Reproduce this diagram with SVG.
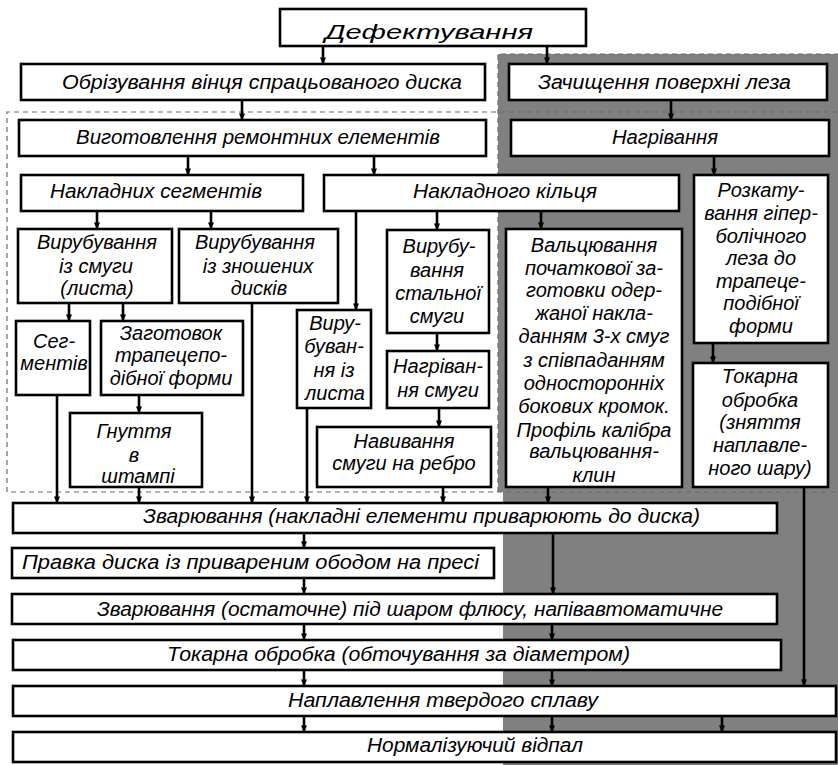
<svg xmlns="http://www.w3.org/2000/svg" width="838" height="765" viewBox="0 0 838 765">
<style>
.bx{fill:#fff;stroke:#000;stroke-width:2.6}
.t{font-family:"Liberation Sans","DejaVu Sans",sans-serif;font-style:italic;font-size:20px;fill:#000}
.c{text-anchor:middle}
.cn line{stroke:#000;stroke-width:2.6;marker-end:url(#ah)}
.dash{fill:none;stroke:#6a6a6a;stroke-width:1.2;stroke-dasharray:5 4}
</style>
<defs>
<marker id="ah" markerUnits="userSpaceOnUse" markerWidth="8" markerHeight="8" viewBox="0 -4 7 8" refX="6.5" refY="0" orient="auto">
<path d="M0,-3 L7,0 L0,3 Z" fill="#000"/>
</marker>
</defs>
<rect x="0" y="0" width="838" height="765" fill="#fff"/>
<path d="M498,54 H838 V765 H503 V492 H498 Z" fill="#808080"/>
<path class="dash" d="M498,492 V54 H838"/>
<path class="dash" d="M838,112 H7 V492 H838"/>

<g class="cn" id="connectors">
<line x1="323" y1="46" x2="323" y2="64"/>
<line x1="547" y1="46" x2="547" y2="64"/>
<line x1="242" y1="100" x2="242" y2="120"/>
<line x1="671" y1="100" x2="671" y2="120"/>
<line x1="188" y1="156" x2="188" y2="175"/>
<line x1="374" y1="156" x2="374" y2="175"/>
<line x1="714" y1="156" x2="714" y2="175"/>
<line x1="97" y1="211" x2="97" y2="229"/>
<line x1="211" y1="211" x2="211" y2="229"/>
<line x1="356" y1="211" x2="356" y2="310"/>
<line x1="437" y1="211" x2="437" y2="230"/>
<line x1="541" y1="211" x2="541" y2="229"/>
<line x1="69" y1="303" x2="69" y2="321"/>
<line x1="123" y1="303" x2="123" y2="321"/>
<line x1="437" y1="333" x2="437" y2="351"/>
<line x1="439" y1="408" x2="439" y2="427"/>
<line x1="713" y1="343" x2="713" y2="363"/>
<line x1="139" y1="395" x2="139" y2="413"/>
<line x1="57" y1="395" x2="57" y2="503"/>
<line x1="139" y1="487" x2="139" y2="503"/>
<line x1="252" y1="303" x2="252" y2="503"/>
<line x1="307" y1="408" x2="307" y2="503"/>
<line x1="443" y1="487" x2="443" y2="503"/>
<line x1="548" y1="487" x2="548" y2="503"/>
<line x1="804" y1="487" x2="804" y2="686"/>
<line x1="304" y1="533" x2="304" y2="548"/>
<line x1="553" y1="533" x2="553" y2="594"/>
<line x1="304" y1="578" x2="304" y2="594"/>
<line x1="304" y1="624" x2="304" y2="640"/>
<line x1="552" y1="624" x2="552" y2="640"/>
<line x1="304" y1="670" x2="304" y2="686"/>
<line x1="552" y1="670" x2="552" y2="686"/>
<line x1="304" y1="716" x2="304" y2="732"/>
<line x1="552" y1="716" x2="552" y2="732"/>
<line x1="722" y1="716" x2="722" y2="732"/>
</g>

<g id="n-defekt"><rect class="bx" x="280" y="9" width="306" height="37"/><text class="t" x="325" y="39" font-size="34" textLength="208" lengthAdjust="spacingAndGlyphs">Дефектування</text></g>
<g id="n-obriz"><rect class="bx" x="21" y="64" width="464" height="36"/><text class="t" x="62" y="89" textLength="400" lengthAdjust="spacingAndGlyphs">Обрізування вінця спрацьованого диска</text></g>
<g id="n-zachysch"><rect class="bx" x="509" y="64" width="318" height="36"/><text class="t" x="538" y="89" textLength="253" lengthAdjust="spacingAndGlyphs">Зачищення поверхні леза</text></g>
<g id="n-vyhot"><rect class="bx" x="19" y="120" width="467" height="36"/><text class="t" x="76" y="144" textLength="364" lengthAdjust="spacingAndGlyphs">Виготовлення ремонтних елементів</text></g>
<g id="n-nahriv"><rect class="bx" x="511" y="120" width="318" height="36"/><text class="t" x="612" y="144" textLength="106" lengthAdjust="spacingAndGlyphs">Нагрівання</text></g>
<g id="n-segm"><rect class="bx" x="21" y="175" width="282" height="36"/><text class="t" x="50" y="198" textLength="212" lengthAdjust="spacingAndGlyphs">Накладних сегментів</text></g>
<g id="n-kilce"><rect class="bx" x="324" y="175" width="355" height="36"/><text class="t" x="413" y="198" textLength="184" lengthAdjust="spacingAndGlyphs">Накладного кільця</text></g>
<g id="n-rozkat"><rect class="bx" x="694" y="175" width="134" height="168"/>
<text class="t c" x="761"><tspan x="761" y="197">Розкату-</tspan><tspan x="761" y="220">вання гіпер-</tspan><tspan x="761" y="243">болічного</tspan><tspan x="761" y="265">леза до</tspan><tspan x="761" y="288">трапеце-</tspan><tspan x="761" y="310">подібної</tspan><tspan x="761" y="333">форми</tspan></text></g>
<g id="n-vyrub-smuhy"><rect class="bx" x="18" y="229" width="154" height="74"/>
<text class="t c"><tspan x="97" y="249">Вирубування</tspan><tspan x="96" y="273">із смуги</tspan><tspan x="97" y="295">(листа)</tspan></text></g>
<g id="n-vyrub-dyskiv"><rect class="bx" x="179" y="229" width="159" height="74"/>
<text class="t c"><tspan x="255" y="249">Вирубування</tspan><tspan x="258" y="273">із зношених</tspan><tspan x="259" y="295">дисків</tspan></text></g>
<g id="n-vyrub-stal"><rect class="bx" x="387" y="230" width="102" height="103"/>
<text class="t c"><tspan x="439" y="253">Вирубу-</tspan><tspan x="437" y="277">вання</tspan><tspan x="438" y="300">стальної</tspan><tspan x="437" y="323">смуги</tspan></text></g>
<g id="n-valc"><rect class="bx" x="506" y="229" width="176" height="258"/>
<text class="t c"><tspan x="594" y="252">Вальцювання</tspan><tspan x="594" y="275">початкової за-</tspan><tspan x="594" y="297">готовки одер-</tspan><tspan x="594" y="320">жаної накла-</tspan><tspan x="594" y="343">данням 3-х смуг</tspan><tspan x="594" y="367">з співпаданням</tspan><tspan x="594" y="390">односторонніх</tspan><tspan x="594" y="413">бокових кромок.</tspan><tspan x="594" y="437">Профіль калібра</tspan><tspan x="594" y="458">вальцювання-</tspan><tspan x="594" y="482">клин</tspan></text></g>
<g id="n-vyrub-lysta"><rect class="bx" x="297" y="310" width="74" height="98"/>
<text class="t c"><tspan x="335" y="330">Виру-</tspan><tspan x="334" y="353">буван-</tspan><tspan x="334" y="377">ня із</tspan><tspan x="335" y="400">листа</tspan></text></g>
<g id="n-segmentiv"><rect class="bx" x="16" y="321" width="74" height="74"/>
<text class="t c"><tspan x="54" y="348">Сег-</tspan><tspan x="54" y="370">ментів</tspan></text></g>
<g id="n-zahot"><rect class="bx" x="101" y="321" width="142" height="74"/>
<text class="t c"><tspan x="171" y="340">Заготовок</tspan><tspan x="171" y="362">трапецепо-</tspan><tspan x="171" y="385">дібної форми</tspan></text></g>
<g id="n-nahriv-smuhy"><rect class="bx" x="387" y="351" width="102" height="57"/>
<text class="t c"><tspan x="438" y="373">Нагріван-</tspan><tspan x="438" y="397">ня смуги</tspan></text></g>
<g id="n-tokar-right"><rect class="bx" x="693" y="363" width="135" height="124"/>
<text class="t c"><tspan x="760" y="383">Токарна</tspan><tspan x="760" y="407">обробка</tspan><tspan x="760" y="429">(зняття</tspan><tspan x="760" y="452">наплавле-</tspan><tspan x="760" y="475">ного шару)</tspan></text></g>
<g id="n-hnuttia"><rect class="bx" x="70" y="413" width="132" height="74"/>
<text class="t c"><tspan x="134" y="438">Гнуття</tspan><tspan x="134" y="462">в</tspan><tspan x="138" y="483">штампі</tspan></text></g>
<g id="n-navyv"><rect class="bx" x="317" y="427" width="174" height="60"/>
<text class="t c"><tspan x="404" y="448">Навивання</tspan><tspan x="404" y="470">смуги на ребро</tspan></text></g>
<g id="n-zvar1"><rect class="bx" x="13" y="503" width="764" height="30"/><text class="t" x="143" y="523" textLength="557" lengthAdjust="spacingAndGlyphs">Зварювання (накладні елементи приварюють до диска)</text></g>
<g id="n-pravka"><rect class="bx" x="12" y="548" width="482" height="30"/><text class="t" x="22" y="569" textLength="457" lengthAdjust="spacingAndGlyphs">Правка диска із привареним ободом на пресі</text></g>
<g id="n-zvar2"><rect class="bx" x="12" y="594" width="765" height="30"/><text class="t" x="97" y="616" textLength="626" lengthAdjust="spacingAndGlyphs">Зварювання (остаточне) під шаром флюсу, напівавтоматичне</text></g>
<g id="n-tokar"><rect class="bx" x="13" y="640" width="768" height="30"/><text class="t" x="167" y="661" textLength="463" lengthAdjust="spacingAndGlyphs">Токарна обробка (обточування за діаметром)</text></g>
<g id="n-naplav"><rect class="bx" x="13" y="686" width="823" height="30"/><text class="t" x="288" y="707" textLength="310" lengthAdjust="spacingAndGlyphs">Наплавлення твердого сплаву</text></g>
<g id="n-normal"><rect class="bx" x="13" y="732" width="823" height="30"/><text class="t" x="367" y="752" textLength="216" lengthAdjust="spacingAndGlyphs">Нормалізуючий відпал</text></g>
</svg>
